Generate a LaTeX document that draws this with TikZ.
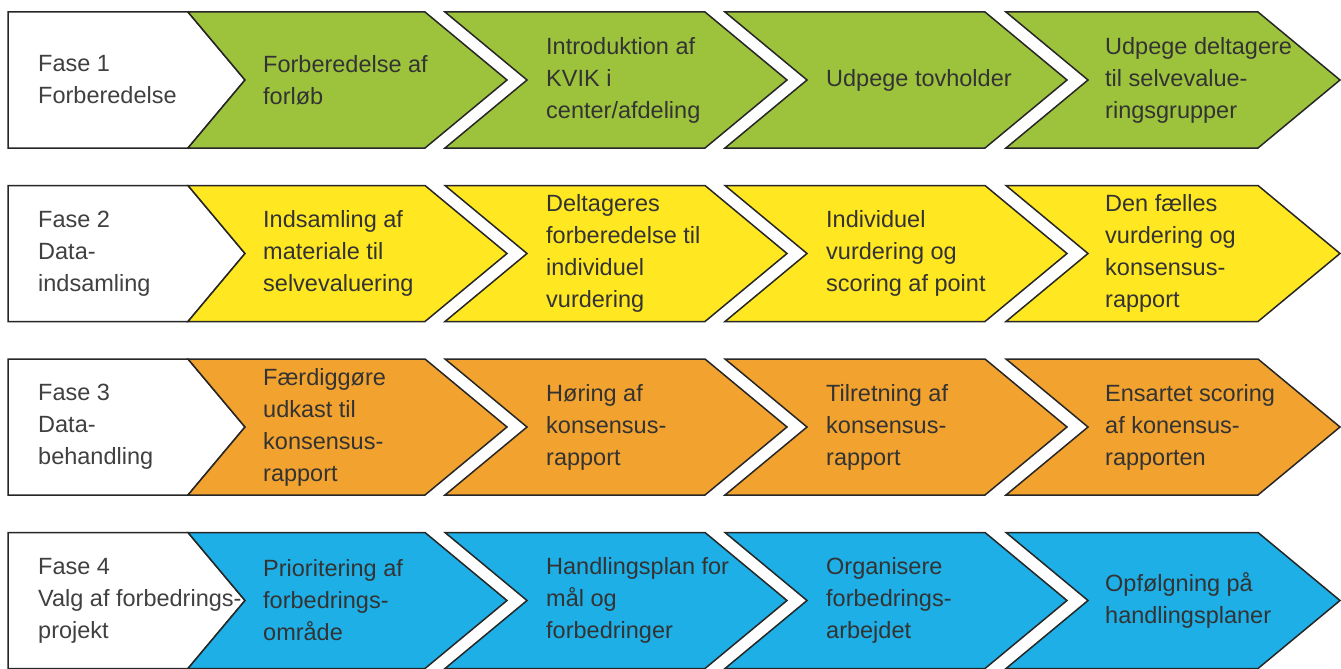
\documentclass[tikz,border=0pt]{standalone}
\usepackage{fontspec}
\setmainfont{Liberation Sans}
\usepackage{tikz}
\usetikzlibrary{positioning}
\definecolor{kgreen}{HTML}{9DC33C}
\definecolor{kyellow}{HTML}{FFE722}
\definecolor{korange}{HTML}{F2A22E}
\definecolor{kblue}{HTML}{1DAFE6}
\tikzstyle{chev} = [draw=black!85, line width=1.5pt, line join=miter]
\tikzstyle{txt} = [anchor=west, align=left, inner sep=0pt, text=black!80, font=\fontsize{23.5}{32}\selectfont]
\tikzstyle{fase} = [txt, text=black!75]
% one row: #1 top, #2 fill colour
\newcommand{\faserow}[2]{%
  \draw[chev, fill=white] (8,#1) -- (188,#1) -- (245,#1+68) -- (188,#1+136) -- (8,#1+136) -- cycle;
  \draw[chev, fill=#2] (188,#1) -- (425,#1) -- ++(82,68) -- (425,#1+136) -- (188,#1+136) -- (245,#1+68) -- cycle;
  \draw[chev, fill=#2] (445,#1) -- (705,#1) -- ++(82,68) -- (705,#1+136) -- (445,#1+136) -- (527,#1+68) -- cycle;
  \draw[chev, fill=#2] (725,#1) -- (985,#1) -- ++(82,68) -- (985,#1+136) -- (725,#1+136) -- (807,#1+68) -- cycle;
  \draw[chev, fill=#2] (1006,#1) -- (1258,#1) -- ++(82,68) -- (1258,#1+136) -- (1006,#1+136) -- (1088,#1+68) -- cycle;}

\begin{document}
\begin{tikzpicture}[x=1pt, y=-1pt]
\useasboundingbox (0,0) rectangle (1341,669);

\faserow{12}{kgreen}
\faserow{185.5}{kyellow}
\faserow{359}{korange}
\faserow{532.5}{kblue}

% Fase 1
\node(P1)[fase] at (38,80) {Fase 1\\Forberedelse};
\node(S11)[txt] at (263,80) {Forberedelse af\\forløb};
\node(S12)[txt] at (546,80) {Introduktion af\\KVIK i\\center/afdeling};
\node(S13)[txt] at (826,80) {Udpege tovholder};
\node(S14)[txt] at (1105,80) {Udpege deltagere\\til selvevalue-\\ringsgrupper};

% Fase 2
\node(P2)[fase] at (38,253.5) {Fase 2\\Data-\\indsamling};
\node(S21)[txt] at (263,253.5) {Indsamling af\\materiale til\\selvevaluering};
\node(S22)[txt] at (546,253.5) {Deltageres\\forberedelse til\\individuel\\vurdering};
\node(S23)[txt] at (826,253.5) {Individuel\\vurdering og\\scoring af point};
\node(S24)[txt] at (1105,253.5) {Den fælles\\vurdering og\\konsensus-\\rapport};

% Fase 3
\node(P3)[fase] at (38,427) {Fase 3\\Data-\\behandling};
\node(S31)[txt] at (263,427) {Færdiggøre\\udkast til\\konsensus-\\rapport};
\node(S32)[txt] at (546,427) {Høring af\\konsensus-\\rapport};
\node(S33)[txt] at (826,427) {Tilretning af\\konsensus-\\rapport};
\node(S34)[txt] at (1105,427) {Ensartet scoring\\af konensus-\\rapporten};

% Fase 4
\node(P4)[fase] at (38,600.5) {Fase 4\\Valg af forbedrings-\\projekt};
\node(S41)[txt] at (263,600.5) {Prioritering af\\forbedrings-\\område};
\node(S42)[txt] at (546,600.5) {Handlingsplan for\\mål og\\forbedringer};
\node(S43)[txt] at (826,600.5) {Organisere\\forbedrings-\\arbejdet};
\node(S44)[txt] at (1105,600.5) {Opfølgning på\\handlingsplaner};

\end{tikzpicture}
\end{document}
